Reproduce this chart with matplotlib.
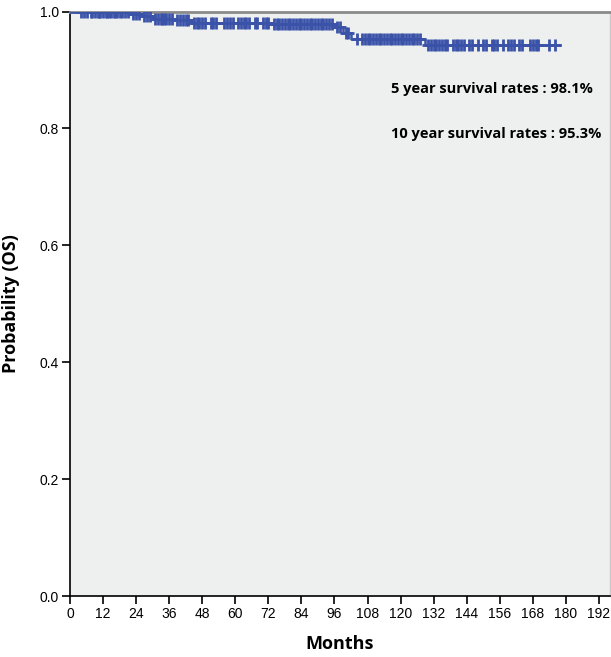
import numpy as np
import matplotlib
matplotlib.use('Agg')
import matplotlib.pyplot as plt

# event times (months) and survival after each step
event_months = [0, 22, 26, 30, 38, 44, 73, 96, 99, 102, 129]
survival = [1.0, 0.996, 0.992, 0.988, 0.985, 0.981, 0.978, 0.973, 0.964, 0.953, 0.943]
last_month = 178

# censored observations
censor_months = [4, 5, 6, 7.5, 8, 9, 10, 10.5, 11, 12, 13, 13.5, 14, 15, 16, 16.5,
                 17, 18, 19, 20, 21,
                 23, 24, 25, 27, 28, 29, 31, 32, 33, 33.5, 34, 35, 36, 37,
                 39, 40, 41, 42, 43, 45, 46, 47, 48, 49, 51, 52, 53, 56, 57, 58, 59,
                 61, 62, 63, 64, 65, 67, 68, 70, 71, 72,
                 74, 75, 76, 77, 78, 79, 80, 81, 82, 83, 84, 85, 86, 87, 88, 89,
                 90, 91, 92, 93, 94, 95, 97, 98, 100, 101,
                 104, 106, 107, 108, 109, 110, 111, 112, 113, 114, 115, 116, 117,
                 118, 119, 120, 121, 122, 123, 124, 125, 126, 127,
                 130, 131, 132, 133, 134, 135, 136, 137, 139, 140, 141, 142, 143,
                 145, 146, 148, 150, 151, 153, 154, 155, 157, 159, 160, 161, 163,
                 164, 167, 168, 169, 170, 174, 176]

x_ticks = list(range(0, 193, 12))
y_ticks = [0.0, 0.2, 0.4, 0.6, 0.8, 1.0]
notes = ['5 year survival rates : 98.1%', '10 year survival rates : 95.3%']

line_color = '#3a52a8'

fig = plt.figure(figsize=(6.11, 6.57), dpi=100)
ax = fig.add_axes([70 / 611, 61 / 657, 540 / 611, 584.5 / 657])
ax.set_facecolor('#eef0ef')

t = np.array(event_months + [last_month], dtype=float)
s = np.array(survival + [survival[-1]])
ax.step(t, s, where='post', color=line_color, lw=1.8, zorder=3)

c = np.array(censor_months, dtype=float)
idx = np.searchsorted(np.array(event_months), c, side='right') - 1
ax.plot(c, np.array(survival)[idx], linestyle='none', marker='+',
        color=line_color, markersize=8, markeredgewidth=2, zorder=4)

ax.set_xlim(0, 196)
ax.set_ylim(0, 1.0)
ax.set_xticks(x_ticks)
ax.set_yticks(y_ticks)
ax.set_yticklabels(['%.1f' % v for v in y_ticks])
ax.tick_params(direction='out', length=6, width=1.2, labelsize=10, pad=2)
for lab in ax.get_xticklabels() + ax.get_yticklabels():
    lab.set_fontfamily('Liberation Sans')

ax.spines['left'].set_linewidth(1.2)
ax.spines['bottom'].set_linewidth(1.2)
ax.spines['top'].set_color('#8a8a8a')
ax.spines['top'].set_linewidth(2)
ax.spines['right'].set_color('#c8c8c8')
ax.spines['right'].set_linewidth(1)

ax.set_xlabel('Months', fontsize=13, fontweight='bold', family='Open Sans', labelpad=10)
ax.set_ylabel('Probability (OS)', fontsize=13, fontweight='bold', family='Open Sans', labelpad=14)

ax.text(391 / 611, 1 - 89 / 657, notes[0], transform=fig.transFigure,
        fontsize=10.5, fontweight='bold', family='Open Sans', va='center')
ax.text(391 / 611, 1 - 134 / 657, notes[1], transform=fig.transFigure,
        fontsize=10.5, fontweight='bold', family='Open Sans', va='center')

fig.savefig('out.png', dpi=100)
